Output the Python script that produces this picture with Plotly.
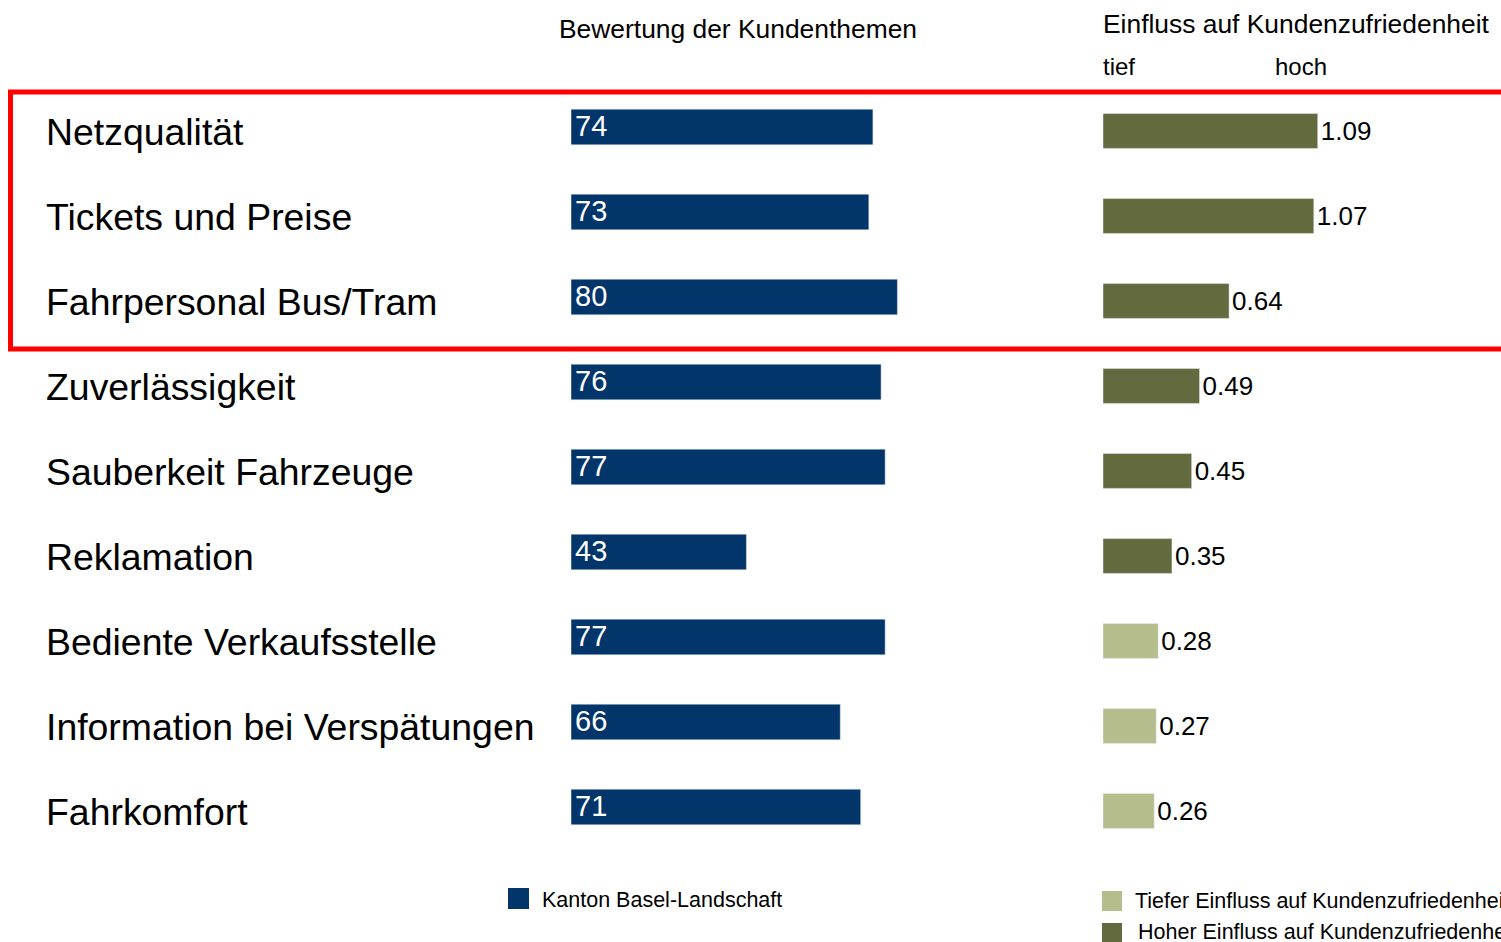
import plotly.graph_objects as go

W, H = 1501, 942

kategorien = ["Netzqualität", "Tickets und Preise", "Fahrpersonal Bus/Tram",
              "Zuverlässigkeit", "Sauberkeit Fahrzeuge", "Reklamation",
              "Bediente Verkaufsstelle", "Information bei Verspätungen", "Fahrkomfort"]
bewertung = [74, 73, 80, 76, 77, 43, 77, 66, 71]
einfluss = [1.09, 1.07, 0.64, 0.49, 0.45, 0.35, 0.28, 0.27, 0.26]
gruppe = ["hoch", "hoch", "hoch", "hoch", "hoch", "hoch", "tief", "tief", "tief"]

titel_links = "Bewertung der Kundenthemen"
titel_rechts = "Einfluss auf Kundenzufriedenheit"
skala_tief, skala_hoch = "tief", "hoch"
legende_links = "Kanton Basel-Landschaft"
legende_tief = "Tiefer Einfluss auf Kundenzufriedenheit"
legende_hoch = "Hoher Einfluss auf Kundenzufriedenheit"

NAVY = "#02366b"
DARK = "#636a3d"
LIGHT = "#b5bd8d"
FONT = "Liberation Sans, Arial, sans-serif"

def px(x):
    return x / W

def py(y):
    return 1 - y / H

fig = go.Figure()

fig.add_trace(go.Bar(
    x=bewertung, y=kategorien, orientation="h", marker_color=NAVY,
    width=0.42, xaxis="x", yaxis="y", showlegend=False, cliponaxis=False,
))

for g, col in (("hoch", DARK), ("tief", LIGHT)):
    ys = [k for k, gg in zip(kategorien, gruppe) if gg == g]
    xs = [v for v, gg in zip(einfluss, gruppe) if gg == g]
    fig.add_trace(go.Bar(
        x=xs, y=ys, orientation="h", marker_color=col, width=0.41,
        text=[f"{v:.2f}" for v in xs], textposition="outside",
        textfont=dict(color="black", size=26, family=FONT),
        xaxis="x2", yaxis="y2", showlegend=False, cliponaxis=False,
    ))

annotations = []
for k in kategorien:
    annotations.append(dict(
        x=px(44), y=k, xref="paper", yref="y2", xanchor="left", yanchor="middle",
        text=k, showarrow=False, yshift=-1,
        font=dict(size=37.4, color="black", family=FONT)))

for k, v in zip(kategorien, bewertung):
    annotations.append(dict(
        x=0, y=k, xref="x", yref="y", xanchor="left", yanchor="middle",
        text=str(v), showarrow=False, xshift=2, yshift=1,
        font=dict(size=29, color="white", family=FONT)))

def txt(x, y, t, size):
    annotations.append(dict(x=px(x), y=py(y), xref="paper", yref="paper",
                            xanchor="left", yanchor="middle", text=t, showarrow=False,
                            font=dict(size=size, color="black", family=FONT)))

txt(557, 29, titel_links, 26.4)
txt(1101, 24, titel_rechts, 26.4)
txt(1101, 67, skala_tief, 24)
txt(1273, 67, skala_hoch, 24)
txt(540, 900, legende_links, 21.5)
txt(1133, 901, legende_tief, 21.5)
txt(1136, 932, legende_hoch, 21.5)

shapes = [
    dict(type="rect", xref="paper", yref="paper", x0=px(10.5), x1=px(1540),
         y0=py(92), y1=py(349), line=dict(color="#ff0000", width=5), fillcolor="rgba(0,0,0,0)"),
    dict(type="rect", xref="paper", yref="paper", x0=px(508), x1=px(529),
         y0=py(888), y1=py(909), line=dict(width=0), fillcolor=NAVY),
    dict(type="rect", xref="paper", yref="paper", x0=px(1102), x1=px(1122),
         y0=py(891), y1=py(911), line=dict(width=0), fillcolor=LIGHT),
    dict(type="rect", xref="paper", yref="paper", x0=px(1102), x1=px(1122),
         y0=py(923), y1=py(943), line=dict(width=0), fillcolor=DARK),
]

ax_common = dict(showgrid=False, zeroline=False, showticklabels=False, showline=False, ticks="")

fig.update_layout(
    width=W, height=H, autosize=False,
    margin=dict(l=0, r=0, t=0, b=0, pad=0),
    paper_bgcolor="white", plot_bgcolor="white",
    barmode="overlay", hovermode=False,
    xaxis=dict(domain=[px(571), px(979)], range=[0, 100], anchor="y", **ax_common),
    yaxis=dict(domain=[0, 1], type="category", categoryorder="array", categoryarray=kategorien,
               range=[(H - 127) / 85, -127 / 85], anchor="x", **ax_common),
    xaxis2=dict(domain=[px(1103), 1.0], range=[0, (W - 1103) / 197], anchor="y2", **ax_common),
    yaxis2=dict(domain=[0, 1], type="category", categoryorder="array", categoryarray=kategorien,
                range=[(H - 131) / 85, -131 / 85], anchor="x2", overlaying="y", **ax_common),
    annotations=annotations, shapes=shapes, showlegend=False,
)

fig.write_html("out.html", config={"displayModeBar": False, "staticPlot": True},
               post_script="document.body.style.margin='0px';document.body.style.overflow='hidden';")
